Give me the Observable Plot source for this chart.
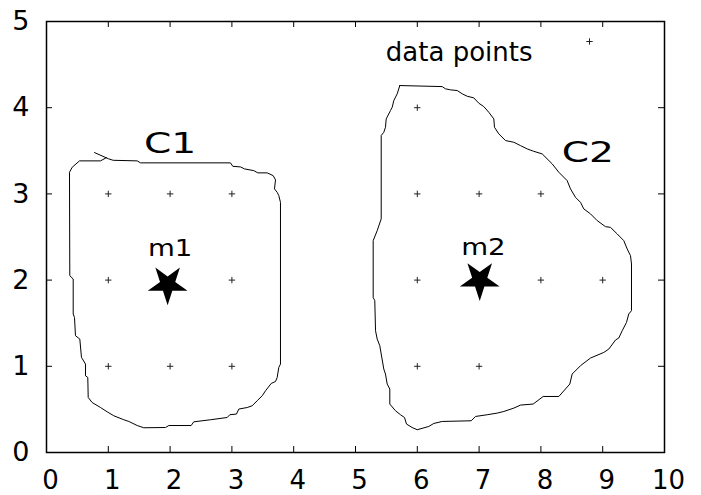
<!DOCTYPE html>
<html><head><meta charset="utf-8">
<script src="https://cdn.jsdelivr.net/npm/d3@7"></script>
<script src="https://cdn.jsdelivr.net/npm/@observablehq/plot@0.6"></script>
<style>body{margin:0;background:#fff} svg{display:block}</style>
</head><body><div id="chart"></div>
<script>
const xTicks = [0,1,2,3,4,5,6,7,8,9,10];
const yTicks = [0,1,2,3,4,5];
const dataPoints = [[1,1],[2,1],[3,1],[1,2],[2,2],[3,2],[1,3],[2,3],[3,3],
  [6,1],[7,1],[6,2],[7,2],[8,2],[9,2],[6,3],[7,3],[8,3],[6,4]];
const centroids = [[1.96,1.95],[7.01,2.0]];
const centroidNames = ["m1","m2"];
const centroidLabelPos = [[2.0,2.36],[7.07,2.38]];
const clusterNames = ["C1","C2"];
const clusterLabelPos = [[2.0,3.58],[8.76,3.47]];
const legendLabel = "data points";
const boundaryC1 = [[0.777,3.479],[1.008,3.406],[1.079,3.390],[1.468,3.383],[1.521,3.360],[2.977,3.360],
 [3.015,3.320],[3.139,3.313],[3.204,3.290],[3.354,3.270],[3.419,3.244],[3.571,3.244],[3.668,3.212],
 [3.706,3.162],[3.689,3.058],[3.733,3.018],[3.759,2.980],[3.786,2.902],[3.786,1.026],[3.759,0.987],
 [3.733,0.871],[3.706,0.824],[3.636,0.801],[3.544,0.716],[3.490,0.658],[3.409,0.600],[3.328,0.542],
 [3.248,0.522],[3.112,0.504],[3.074,0.446],[2.966,0.438],[2.924,0.406],[2.654,0.380],[2.383,0.356],
 [2.341,0.313],[1.979,0.313],[1.926,0.290],[1.574,0.287],[1.468,0.313],[1.332,0.360],[1.251,0.380],
 [1.089,0.426],[0.982,0.472],[0.874,0.522],[0.739,0.580],[0.675,0.638],[0.668,0.871],[0.631,0.890],
 [0.631,1.026],[0.566,1.103],[0.539,1.316],[0.469,1.355],[0.453,1.567],[0.432,1.607],[0.432,2.013],
 [0.377,2.051],[0.372,3.251],[0.416,3.309],[0.534,3.383],[0.874,3.383],[0.971,3.421]];
const boundaryC2 = [[5.717,4.257],[6.403,4.245],[6.456,4.219],[6.537,4.207],[6.646,4.199],[6.727,4.161],
 [6.807,4.133],[6.914,4.114],[6.995,4.052],[7.076,4.013],[7.157,3.947],[7.238,3.870],[7.249,3.773],
 [7.319,3.696],[7.427,3.619],[7.562,3.599],[7.670,3.560],[7.778,3.522],[7.885,3.494],[8.021,3.464],
 [8.183,3.348],[8.290,3.251],[8.425,3.154],[8.479,3.058],[8.560,2.960],[8.641,2.902],[8.694,2.826],
 [8.803,2.768],[8.911,2.690],[9.045,2.620],[9.126,2.612],[9.235,2.535],[9.341,2.458],[9.396,2.361],
 [9.450,2.283],[9.466,2.187],[9.466,1.645],[9.422,1.607],[9.385,1.509],[9.316,1.413],[9.260,1.328],
 [9.207,1.305],[9.099,1.200],[9.018,1.161],[8.803,1.096],[8.641,1.007],[8.506,0.910],[8.468,0.794],
 [8.290,0.650],[8.037,0.650],[7.875,0.562],[7.670,0.550],[7.562,0.515],[7.400,0.476],[7.293,0.457],
 [7.131,0.438],[6.942,0.418],[6.872,0.368],[6.403,0.360],[6.267,0.337],[6.186,0.302],[5.998,0.264],
 [5.917,0.290],[5.825,0.330],[5.793,0.406],[5.728,0.438],[5.647,0.484],[5.555,0.562],[5.555,0.736],
 [5.513,0.794],[5.485,0.910],[5.458,0.968],[5.416,1.142],[5.393,1.239],[5.351,1.316],[5.324,1.413],
 [5.312,1.761],[5.286,1.799],[5.286,2.458],[5.351,2.574],[5.416,2.710],[5.416,3.677],[5.458,3.715],
 [5.485,3.773],[5.497,3.870],[5.566,3.967],[5.594,4.005],[5.620,4.083],[5.675,4.161],[5.717,4.257]];

const font = "DejaVu Sans";
const plot = Plot.plot({
  width: 701, height: 495,
  marginLeft: 46, marginRight: 37, marginTop: 21, marginBottom: 43,
  x: {domain: [0, 10]},
  y: {domain: [0, 5]},
  style: {fontFamily: font, background: "white", color: "black"},
  marks: [
    Plot.line(boundaryC1, {x: d => d[0], y: d => d[1], stroke: "black", strokeWidth: 1}),
    Plot.line(boundaryC2, {x: d => d[0], y: d => d[1], stroke: "black", strokeWidth: 1}),
    Plot.dot(dataPoints, {x: d => d[0], y: d => d[1], symbol: "plus", r: 2.2, stroke: "#222", strokeWidth: 1}),
    Plot.dot(centroids, {x: d => d[0], y: d => d[1], symbol: "star", r: 12.5, fill: "black", stroke: null, rotate: 36}),
    Plot.text(centroidNames, {x: (d, i) => centroidLabelPos[i][0], y: (d, i) => centroidLabelPos[i][1], text: d => d, fontSize: 23, fill: "black"}),
    Plot.text(clusterNames, {x: (d, i) => clusterLabelPos[i][0], y: (d, i) => clusterLabelPos[i][1], text: d => d, fontSize: 28, fill: "black"}),
    Plot.text([legendLabel], {frameAnchor: "top-right", dx: -132, dy: 21, textAnchor: "end", text: d => d, fontSize: 26, fill: "black"}),
    Plot.dot([legendLabel], {frameAnchor: "top-right", dx: -75, dy: 20, symbol: "plus", r: 2.2, stroke: "#222", strokeWidth: 1}),
    Plot.tickX(xTicks, {x: d => d, insetTop: 425, stroke: "black", strokeWidth: 1}),
    Plot.tickX(xTicks, {x: d => d, insetBottom: 425, stroke: "black", strokeWidth: 1}),
    Plot.tickY(yTicks, {y: d => d, insetRight: 612, stroke: "black", strokeWidth: 1}),
    Plot.tickY(yTicks, {y: d => d, insetLeft: 612, stroke: "black", strokeWidth: 1}),
    Plot.axisX({ticks: xTicks, tickSize: 0, tickPadding: 18, fontSize: 26, dx: 4, label: null, tickFormat: d => String(d)}),
    Plot.axisY({ticks: yTicks, tickSize: 0, tickPadding: 17, fontSize: 27, label: null, tickFormat: d => String(d)}),
    Plot.frame({stroke: "black", strokeWidth: 1.5})
  ]
});
document.getElementById("chart").appendChild(plot);

// widen the annotation labels (the reference uses a wide face)
const widen = {"C1": 1.4, "C2": 1.4, "m1": 1.2, "m2": 1.2};
plot.querySelectorAll("text").forEach(el => {
  const k = widen[el.textContent];
  if (!k) return;
  let t = el.getAttribute("transform");
  if (!t) {
    const x = el.getAttribute("x") || 0, y = el.getAttribute("y") || 0;
    el.removeAttribute("x"); el.removeAttribute("y");
    t = `translate(${x},${y})`;
  }
  el.setAttribute("transform", t + ` scale(${k},1)`);
});
</script>
</body></html>
